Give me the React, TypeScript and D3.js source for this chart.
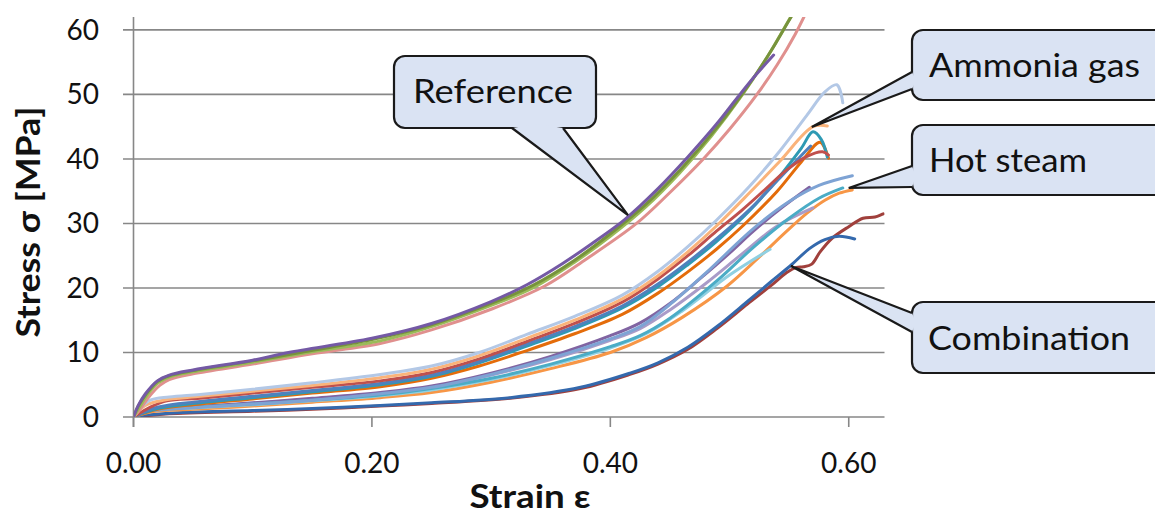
import React from "react";
import * as d3 from "d3";

// axis ticks
const xTicks = [0, 0.2, 0.4, 0.6];
const yTicks = [0, 10, 20, 30, 40, 50, 60];

// Reference group [strain, stress MPa]
const refPurple: [number, number][] = [
  [0, 0], [0.004, 1.8], [0.01, 3.6], [0.02, 5.6], [0.03, 6.5], [0.05, 7.3], [0.1, 8.8], [0.13, 10],
  [0.2, 12.2], [0.25, 14.5], [0.3, 17.9], [0.33, 20.5], [0.36, 23.8], [0.39, 27.6], [0.412, 30.6],
  [0.44, 35.4], [0.465, 40.3], [0.49, 45.6], [0.507, 49.6], [0.522, 53], [0.537, 56.1],
];
const refOlive: [number, number][] = [
  [0, 0], [0.004, 1.7], [0.01, 3.4], [0.02, 5.5], [0.03, 6.4], [0.05, 7.2], [0.1, 8.7], [0.14, 10],
  [0.2, 12], [0.25, 14.3], [0.3, 17.6], [0.335, 20.4], [0.37, 24.3], [0.4, 28.4], [0.43, 33],
  [0.46, 38.6], [0.49, 45], [0.515, 51.2], [0.535, 56.8], [0.55, 61.5], [0.56, 64.5],
];
const refGreen: [number, number][] = [
  [0, 0], [0.005, 1.5], [0.01, 3], [0.02, 5.2], [0.03, 6.2], [0.05, 7], [0.1, 8.5], [0.15, 10.1],
  [0.207, 11.8], [0.25, 14], [0.3, 17.3], [0.335, 20], [0.37, 24], [0.4, 28], [0.43, 32.6],
  [0.458, 37.8], [0.485, 43.6], [0.511, 50], [0.53, 55.3], [0.545, 60], [0.56, 64.8],
];
const refPink: [number, number][] = [
  [0, 0], [0.006, 1.3], [0.012, 2.9], [0.022, 4.9], [0.03, 5.8], [0.05, 6.7], [0.1, 8.2], [0.15, 9.8],
  [0.207, 11.4], [0.25, 13.5], [0.3, 16.7], [0.345, 20.3], [0.38, 24.5], [0.422, 30], [0.45, 34.8],
  [0.478, 40], [0.5, 44.6], [0.523, 50], [0.54, 54.6], [0.555, 59.3], [0.565, 63],
];

// Ammonia gas group
const amLightBlue: [number, number][] = [
  [0, 0], [0.005, 1.2], [0.014, 2.6], [0.03, 3.1], [0.056, 3.5], [0.1, 4.3], [0.15, 5.3], [0.207, 6.6],
  [0.25, 7.9], [0.29, 10], [0.33, 12.8], [0.37, 15.6], [0.41, 18.9], [0.44, 22.6], [0.465, 26.4],
  [0.489, 30.5], [0.517, 35.8], [0.542, 41.2], [0.565, 46.8], [0.58, 50.4], [0.59, 51.5], [0.595, 48.7],
];
const amLightOrange: [number, number][] = [
  [0, 0], [0.01, 1.8], [0.025, 2.6], [0.056, 3.2], [0.1, 4], [0.15, 4.9], [0.207, 6.1], [0.25, 7.4],
  [0.29, 9.5], [0.33, 12.2], [0.37, 15], [0.41, 18.3], [0.44, 21.9], [0.465, 25.6], [0.489, 29.6],
  [0.517, 34.8], [0.542, 39.6], [0.57, 45], [0.582, 45.1],
];
const amRed: [number, number][] = [
  [0, 0], [0.015, 1.6], [0.028, 2.5], [0.056, 2.9], [0.1, 3.7], [0.15, 4.6], [0.207, 5.6], [0.25, 6.9],
  [0.29, 9], [0.33, 11.7], [0.37, 14.5], [0.41, 17.8], [0.44, 21.4], [0.465, 25], [0.489, 28.8],
  [0.51, 32], [0.53, 35.3], [0.548, 38.3], [0.565, 40.4], [0.578, 41.1], [0.583, 40.6],
];
const amBlue: [number, number][] = [
  [0, 0], [0.02, 1.5], [0.056, 2.4], [0.1, 3.2], [0.15, 4.1], [0.207, 5.2], [0.25, 6.5], [0.29, 8.6],
  [0.33, 11.3], [0.37, 14], [0.41, 17.2], [0.44, 20.6], [0.465, 24], [0.489, 27.6], [0.517, 32.2],
  [0.542, 37], [0.56, 40.5], [0.568, 42],
];
const amTeal: [number, number][] = [
  [0, 0], [0.02, 1.3], [0.056, 2.2], [0.1, 3], [0.15, 3.9], [0.207, 5], [0.25, 6.3], [0.29, 8.4],
  [0.33, 11], [0.37, 13.7], [0.41, 16.9], [0.44, 20.2], [0.465, 23.6], [0.489, 27.2], [0.517, 32],
  [0.542, 37.3], [0.56, 41.6], [0.57, 44.2], [0.577, 43], [0.582, 40.3],
];
const amOrange: [number, number][] = [
  [0, 0], [0.02, 1.2], [0.056, 2], [0.1, 2.8], [0.15, 3.7], [0.207, 4.7], [0.25, 6], [0.29, 7.9],
  [0.33, 10.3], [0.37, 12.9], [0.41, 15.9], [0.44, 19.2], [0.465, 22.5], [0.489, 26], [0.511, 29.6],
  [0.54, 35], [0.56, 39.5], [0.576, 42.6], [0.583, 40.1],
];

// Hot steam group
const hsPurple: [number, number][] = [
  [0, 0], [0.015, 1.1], [0.05, 1.6], [0.1, 2.2], [0.15, 2.9], [0.207, 3.8], [0.25, 4.8], [0.3, 6.8],
  [0.35, 9.4], [0.4, 12.6], [0.425, 14.6], [0.45, 17.6], [0.475, 21.4], [0.5, 25.4], [0.52, 28.8],
  [0.545, 32.6], [0.567, 35.6],
];
const hsLavender: [number, number][] = [
  [0, 0], [0.015, 1], [0.05, 1.5], [0.1, 2.1], [0.15, 2.8], [0.207, 3.6], [0.25, 4.6], [0.3, 6.5],
  [0.35, 8.9], [0.4, 11.9], [0.425, 13.7], [0.45, 16.6], [0.48, 20.7], [0.51, 25.2], [0.54, 29.6],
  [0.57, 32.4],
];
const hsAqua: [number, number][] = [
  [0, 0], [0.015, 1.1], [0.05, 1.5], [0.1, 2], [0.15, 2.6], [0.207, 3.4], [0.25, 4.4], [0.3, 6],
  [0.35, 8.2], [0.4, 10.9], [0.425, 12.6], [0.45, 15.3], [0.49, 21.2], [0.52, 26.3], [0.55, 30.8],
  [0.575, 33.9], [0.595, 35.5],
];
const hsLightAqua: [number, number][] = [
  [0, 0], [0.015, 1], [0.05, 1.4], [0.1, 1.9], [0.15, 2.5], [0.207, 3.3], [0.25, 4.2], [0.3, 5.8],
  [0.35, 8], [0.4, 10.7], [0.43, 12.9], [0.46, 16.4], [0.5, 22], [0.534, 26],
];
const hsSteel: [number, number][] = [
  [0, 0], [0.01, 0.8], [0.03, 1.2], [0.1, 2], [0.15, 2.6], [0.207, 3.6], [0.25, 4.6], [0.3, 6.6],
  [0.35, 9.1], [0.4, 12.1], [0.425, 14], [0.453, 17.9], [0.48, 22.3], [0.52, 29.2], [0.55, 33.4],
  [0.575, 35.9], [0.603, 37.4],
];
const hsOrange: [number, number][] = [
  [0, 0], [0.015, 0.8], [0.05, 1.2], [0.1, 1.7], [0.15, 2.3], [0.207, 3], [0.25, 3.8], [0.3, 5.4],
  [0.35, 7.5], [0.4, 10], [0.43, 12.3], [0.46, 15.4], [0.498, 20.3], [0.525, 24.8], [0.548, 28.8],
  [0.565, 31.6], [0.58, 33.6], [0.592, 34.7], [0.603, 35.2],
];

// Combination group
const coBlue: [number, number][] = [
  [0, 0], [0.01, 0.3], [0.03, 0.6], [0.1, 1], [0.15, 1.3], [0.207, 1.8], [0.25, 2.2], [0.316, 3],
  [0.375, 4.6], [0.4165, 6.8], [0.44, 8.4], [0.465, 10.8], [0.49, 14.1], [0.515, 17.9], [0.535, 21],
  [0.552, 23.6], [0.567, 26.1], [0.58, 27.5], [0.592, 28], [0.605, 27.6],
];
const coRed: [number, number][] = [
  [0, 0], [0.01, 0.2], [0.03, 0.5], [0.1, 0.9], [0.15, 1.2], [0.207, 1.7], [0.25, 2.1], [0.316, 2.9],
  [0.375, 4.4], [0.4165, 6.6], [0.44, 8.2], [0.465, 10.5], [0.49, 13.8], [0.515, 17.5], [0.535, 20.4],
  [0.548, 22.4], [0.556, 23.2], [0.562, 23.3], [0.569, 23.7], [0.576, 25.6], [0.586, 27.7],
  [0.6, 29.5], [0.612, 30.8], [0.622, 31], [0.629, 31.5],
];

const series = [
  { pts: coRed, color: "#a0403c" },
  { pts: coBlue, color: "#3469ad" },
  { pts: hsOrange, color: "#f79646" },
  { pts: hsLavender, color: "#a99bc8" },
  { pts: hsPurple, color: "#8064a2" },
  { pts: hsLightAqua, color: "#8fd0e2" },
  { pts: hsAqua, color: "#4bacc6" },
  { pts: hsSteel, color: "#7ea3d4" },
  { pts: amOrange, color: "#e46c0a" },
  { pts: amTeal, color: "#2e9ab4" },
  { pts: amBlue, color: "#4f81bd" },
  { pts: amRed, color: "#c0504d" },
  { pts: amLightOrange, color: "#fab37a" },
  { pts: amLightBlue, color: "#b3c8e6" },
  { pts: refPink, color: "#e0908e" },
  { pts: refGreen, color: "#9bbb59" },
  { pts: refOlive, color: "#77933c" },
  { pts: refPurple, color: "#7459a5" },
];

const font = "Lato, 'Open Sans', sans-serif";

export default function App() {
  const width = 1155;
  const height = 515;
  const x = d3.scaleLinear().domain([0, 0.63]).range([133.5, 884.5]);
  const y = d3.scaleLinear().domain([0, 62]).range([417, 17]);
  const line = d3
    .line<[number, number]>()
    .x((d) => x(d[0]))
    .y((d) => y(d[1]))
    .curve(d3.curveCatmullRom.alpha(0.5));

  // callouts: box in pixels, tail base in pixels, tip in data units
  const callouts = [
    { label: "Reference", x0: 394, y0: 56, x1: 596, y1: 128, base: [[512, 128], [563, 128]], tip: [0.4148, 31.3], tx: 413, tw: 160, ty: 103 },
    { label: "Ammonia gas", x0: 912, y0: 30, x1: 1170, y1: 100, base: [[912, 72], [912, 89]], tip: [0.569, 44.95], tx: 929, tw: 211, ty: 77 },
    { label: "Hot steam", x0: 912, y0: 125, x1: 1170, y1: 195, base: [[912, 166], [912, 187]], tip: [0.6, 35.5], tx: 929, tw: 158, ty: 172 },
    { label: "Combination", x0: 912, y0: 302, x1: 1170, y1: 373, base: [[912, 313], [912, 332]], tip: [0.5515, 23.4], tx: 928, tw: 202, ty: 350 },
  ];

  return (
    <svg width={width} height={height} style={{ position: "absolute", left: 0, top: 0, background: "#fff" }}>
      <defs>
        <clipPath id="plot">
          <rect x={133.5} y={17} width={751} height={400} />
        </clipPath>
      </defs>
      {/* grid */}
      {yTicks.map((t) => (
        <line key={"g" + t} x1={123} x2={884.5} y1={y(t)} y2={y(t)} stroke="#878787" strokeWidth={1.6} />
      ))}
      <line x1={x(0)} x2={x(0)} y1={17} y2={427} stroke="#878787" strokeWidth={1.6} />
      {xTicks.map((t) => (
        <line key={"xt" + t} x1={x(t)} x2={x(t)} y1={417} y2={427} stroke="#878787" strokeWidth={1.6} />
      ))}
      {/* tick labels */}
      {yTicks.map((t) => (
        <text key={"yl" + t} x={99} y={y(t) + 10} textAnchor="end" fontFamily={font} fontSize={28} fill="#111">
          {t}
        </text>
      ))}
      {xTicks.map((t) => (
        <text key={"xl" + t} x={x(t)} y={473} textAnchor="middle" fontFamily={font} fontSize={28} fill="#111">
          {t.toFixed(2)}
        </text>
      ))}
      {/* axis titles */}
      <text x={530} y={508} textAnchor="middle" fontFamily={font} fontSize={33} fontWeight="bold" fill="#111"
        textLength={121} lengthAdjust="spacingAndGlyphs">
        Strain ε
      </text>
      <text transform="translate(40,222) rotate(-90)" textAnchor="middle" fontFamily={font} fontSize={33}
        fontWeight="bold" fill="#111" textLength={231} lengthAdjust="spacingAndGlyphs">
        Stress σ [MPa]
      </text>
      {/* curves */}
      <g clipPath="url(#plot)">
        {series.map((s, i) => (
          <path key={i} d={line(s.pts) || ""} fill="none" stroke={s.color} strokeWidth={3} strokeLinejoin="round" strokeLinecap="round" />
        ))}
      </g>
      {/* callouts */}
      {callouts.map((c) => {
        const tp = [x(c.tip[0]), y(c.tip[1])];
        const [b0, b1] = c.base;
        return (
          <g key={c.label}>
            <rect x={c.x0} y={c.y0} width={c.x1 - c.x0} height={c.y1 - c.y0} rx={11} fill="#dae3f3" stroke="#1a1a1a" strokeWidth={2.2} />
            <polygon points={`${b0[0]},${b0[1]} ${tp[0]},${tp[1]} ${b1[0]},${b1[1]} ${(b0[0] + b1[0]) / 2 + (b0[0] === b1[0] ? 4 : 0)},${(b0[1] + b1[1]) / 2 - (b0[1] === b1[1] ? 4 : 0)}`} fill="#dae3f3" />
            <polyline points={`${b0[0]},${b0[1]} ${tp[0]},${tp[1]} ${b1[0]},${b1[1]}`} fill="none" stroke="#1a1a1a" strokeWidth={2.2} strokeLinejoin="miter" />
            <text x={c.tx} y={c.ty} fontFamily={font} fontSize={33} fill="#111" textLength={c.tw} lengthAdjust="spacingAndGlyphs">
              {c.label}
            </text>
          </g>
        );
      })}
    </svg>
  );
}
